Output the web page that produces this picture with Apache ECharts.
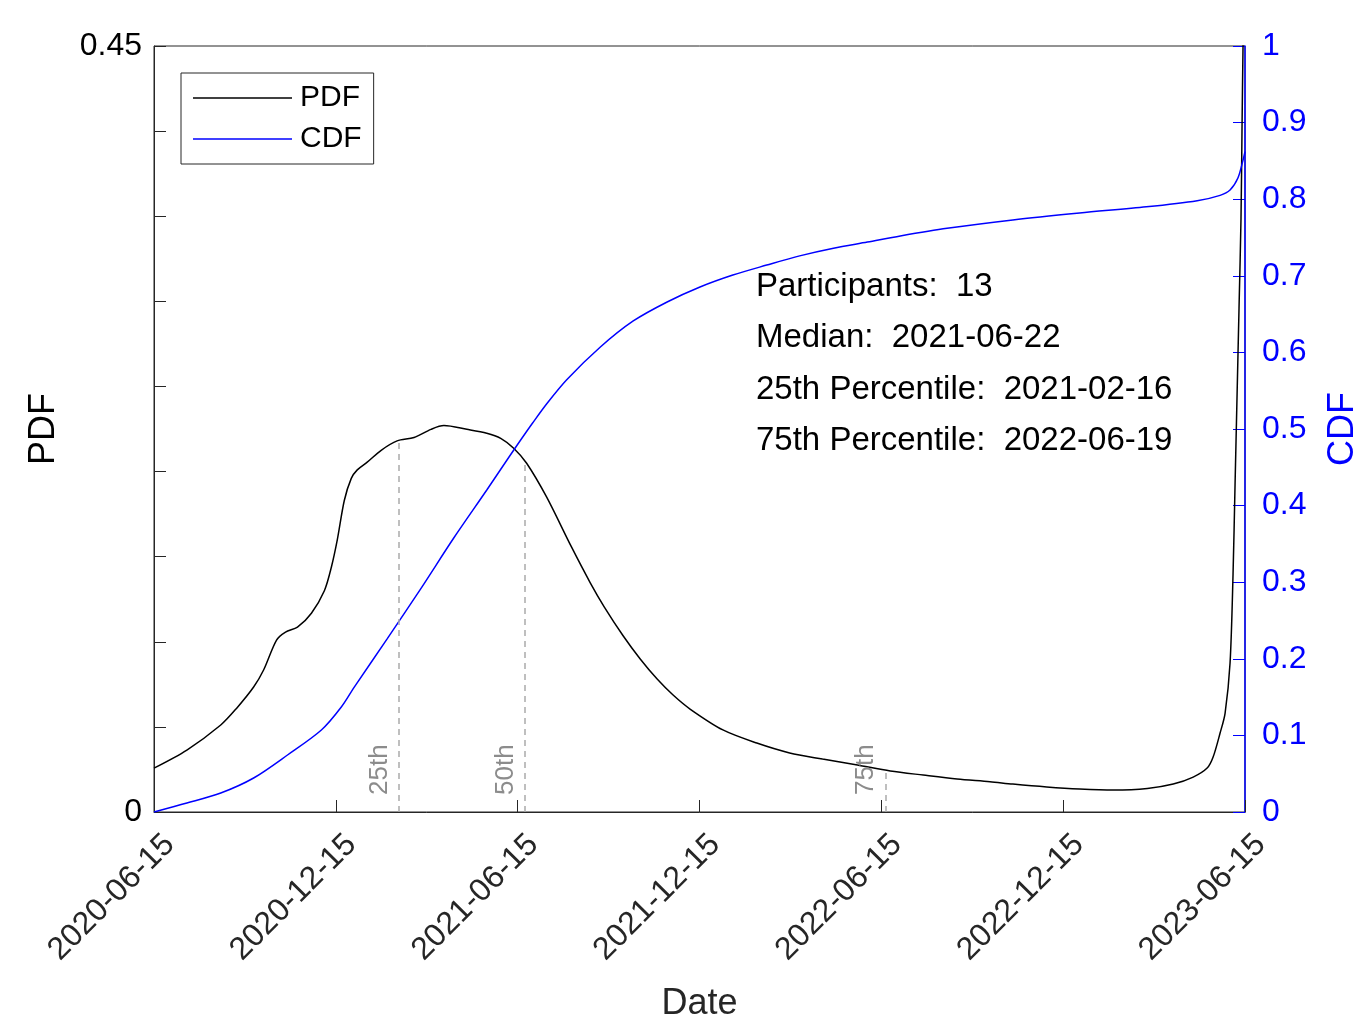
<!DOCTYPE html>
<html>
<head>
<meta charset="utf-8">
<script src="https://cdn.jsdelivr.net/npm/echarts@6/dist/echarts.min.js"></script>
<style>
  html, body { margin: 0; padding: 0; background: #fff; }
  #chart { width: 1359px; height: 1017px; }
</style>
</head>
<body>
<div id="chart"></div>
<script>
// x values are days since 2020-06-15
const tickLabels = ["2020-06-15", "2020-12-15", "2021-06-15", "2021-12-15", "2022-06-15", "2022-12-15", "2023-06-15"];

const pdfDays = [0, 33, 67, 83, 100, 110, 123, 132, 144, 158, 171, 178, 184, 191, 198, 204, 214, 228, 244, 261, 278, 291, 314, 334, 348, 361, 374, 394, 419, 438, 452, 471, 488, 505, 521, 538, 571, 605, 638, 671, 706, 739, 772, 806, 839, 862, 896, 929, 963, 997, 1023, 1043, 1057, 1063, 1070, 1075, 1080, 1083, 1085, 1087, 1089, 1091, 1092, 1093, 1095];
const pdfValues = [0.0258, 0.0364, 0.0511, 0.061, 0.0734, 0.0834, 0.101, 0.1057, 0.1086, 0.1168, 0.130, 0.1438, 0.160, 0.183, 0.196, 0.201, 0.2055, 0.2125, 0.218, 0.220, 0.2248, 0.227, 0.2248, 0.2225, 0.2195, 0.2137, 0.2049, 0.1851, 0.1557, 0.1345, 0.1204, 0.1034, 0.0899, 0.0781, 0.0687, 0.0605, 0.0482, 0.0405, 0.0347, 0.0311, 0.0276, 0.0241, 0.0217, 0.0194, 0.0178, 0.0164, 0.0147, 0.0135, 0.0129, 0.0138, 0.0164, 0.0205, 0.0258, 0.0323, 0.0464, 0.058, 0.0875, 0.1397, 0.192, 0.244, 0.296, 0.349, 0.401, 0.449, 0.52];

const cdfDays = [0, 33, 67, 100, 134, 168, 188, 201, 234, 268, 301, 334, 357, 368, 380, 394, 414, 448, 481, 515, 548, 581, 615, 648, 682, 716, 749, 796, 862, 929, 996, 1047, 1070, 1080, 1088, 1093, 1095];
const cdfValues = [0, 0.0117, 0.0248, 0.0444, 0.0744, 0.107, 0.137, 0.163, 0.226, 0.292, 0.358, 0.4204, 0.4648, 0.4856, 0.5078, 0.5326, 0.564, 0.607, 0.641, 0.6658, 0.6854, 0.701, 0.714, 0.726, 0.736, 0.744, 0.752, 0.762, 0.773, 0.782, 0.790, 0.798, 0.805, 0.812, 0.828, 0.851, 0.862];

const percentileDays = [246, 372, 734];
const percentileNames = ["25th", "50th", "75th"];

const statLines = ["Participants:  13", "Median:  2021-06-22", "25th Percentile:  2021-02-16", "75th Percentile:  2022-06-19"];

const fontFam = '"Liberation Sans", Arial, sans-serif';
const axisColor = "#262626";

function zip(xs, ys) {
  return xs.map((x, i) => [x, ys[i]]);
}

// height of the pdf curve at a given day, for the dashed percentile lines
function pdfAt(d) {
  for (let i = 1; i < pdfDays.length; i++) {
    if (pdfDays[i] >= d) {
      let t = (d - pdfDays[i - 1]) / (pdfDays[i] - pdfDays[i - 1]);
      return pdfValues[i - 1] + t * (pdfValues[i] - pdfValues[i - 1]);
    }
  }
  return pdfValues[pdfValues.length - 1];
}

const myChart = echarts.init(document.getElementById("chart"));

const percentileLines = percentileDays.map((d, i) => [
  { coord: [d, 0], label: { formatter: percentileNames[i] } },
  { coord: [d, pdfAt(d)] }
]);

myChart.setOption({
  backgroundColor: "#fff",
  animation: false,
  textStyle: { fontFamily: fontFam },
  grid: {
    left: 154,
    right: 114,
    top: 46,
    bottom: 205,
    outerBoundsMode: "none",
    show: true,
    borderColor: axisColor,
    borderWidth: 1
  },
  legend: {
    left: 181,
    top: 73,
    orient: "vertical",
    backgroundColor: "#fff",
    borderColor: axisColor,
    borderWidth: 1,
    borderRadius: 0,
    padding: [10, 12, 10, 12],
    itemWidth: 99,
    itemHeight: 1.5,
    itemGap: 11,
    textStyle: { fontSize: 30, color: "#000", fontFamily: fontFam, padding: [0, 0, 0, 3] },
    data: [
      { name: "PDF", icon: "rect" },
      { name: "CDF", icon: "rect" }
    ]
  },
  xAxis: {
    type: "value",
    min: 0,
    max: 1095,
    interval: 182.5,
    name: "Date",
    nameLocation: "middle",
    nameGap: 174,
    nameTextStyle: { fontSize: 36, color: axisColor, fontFamily: fontFam },
    axisLine: { show: true, lineStyle: { color: axisColor, width: 1 } },
    axisTick: { show: true, inside: true, length: 12, lineStyle: { color: axisColor } },
    splitLine: { show: false },
    axisLabel: {
      rotate: 45,
      fontSize: 32,
      color: axisColor,
      margin: 12,
      verticalAlign: "top",
      padding: [6, 0, 0, 0],
      formatter: (v) => tickLabels[Math.round(v / 182.5)] || ""
    }
  },
  yAxis: [
    {
      type: "value",
      min: 0,
      max: 0.45,
      interval: 0.05,
      name: "PDF",
      nameLocation: "middle",
      nameGap: 92,
      nameRotate: 90,
      nameTextStyle: { fontSize: 36, color: "#000", fontFamily: fontFam },
      axisLine: { show: true, lineStyle: { color: axisColor, width: 1 } },
      axisTick: { show: true, inside: true, length: 12, lineStyle: { color: axisColor } },
      splitLine: { show: false },
      axisLabel: {
        fontSize: 32,
        color: "#000",
        margin: 12,
        formatter: (v) => (v === 0 ? "0" : Math.abs(v - 0.45) < 1e-6 ? "0.45" : "")
      }
    },
    {
      type: "value",
      min: 0,
      max: 1,
      interval: 0.1,
      position: "right",
      name: "CDF",
      nameLocation: "middle",
      nameGap: 80,
      nameRotate: 90,
      nameTextStyle: { fontSize: 36, color: "#0000ff", fontFamily: fontFam },
      axisLine: { show: true, lineStyle: { color: "#0000ff", width: 1.5 } },
      axisTick: { show: true, inside: true, length: 12, lineStyle: { color: "#0000ff" } },
      splitLine: { show: false },
      axisLabel: {
        fontSize: 32,
        color: "#0000ff",
        margin: 17,
        formatter: (v) => (v === 0 ? "0" : v === 1 ? "1" : v.toFixed(1))
      }
    }
  ],
  graphic: statLines.map((t, i) => ({
    type: "text",
    x: 756,
    y: 287 + i * 51.3,
    style: {
      text: t,
      font: "33px " + fontFam,
      fill: "#000",
      verticalAlign: "middle"
    }
  })),
  series: [
    {
      name: "PDF",
      type: "line",
      yAxisIndex: 0,
      data: zip(pdfDays, pdfValues),
      showSymbol: false,
      smooth: 0.3,
      clip: true,
      lineStyle: { color: "#000", width: 1.5 },
      itemStyle: { color: "#000" },
      markLine: {
        silent: true,
        symbol: "none",
        lineStyle: { color: "#aaaaaa", type: [6, 5], width: 1.5 },
        label: {
          show: true,
          position: "insideStartTop",
          distance: [17, 6],
          color: "#8c8c8c",
          fontSize: 26,
          fontFamily: fontFam
        },
        data: percentileLines
      }
    },
    {
      name: "CDF",
      type: "line",
      yAxisIndex: 1,
      data: zip(cdfDays, cdfValues),
      showSymbol: false,
      smooth: 0.3,
      clip: true,
      lineStyle: { color: "#0000ff", width: 1.5 },
      itemStyle: { color: "#0000ff" }
    }
  ]
});

window.addEventListener("resize", () => {
  myChart.resize();
});
</script>
</body>
</html>
